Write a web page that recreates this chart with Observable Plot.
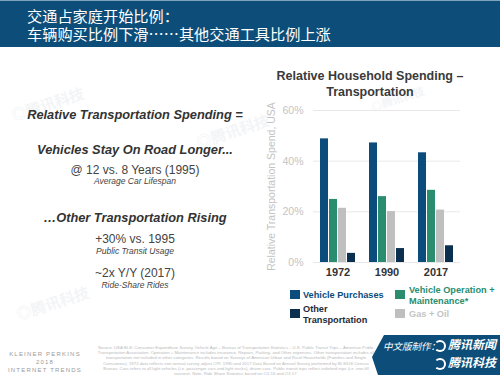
<!DOCTYPE html>
<html><head><meta charset="utf-8">
<script src="https://cdn.jsdelivr.net/npm/d3@7"></script>
<script src="https://cdn.jsdelivr.net/npm/@observablehq/plot@0.6"></script>
<style>
html,body{margin:0;padding:0;background:#fff;}
#page{position:relative;width:500px;height:375px;overflow:hidden;font-family:"Liberation Sans",Arial,Helvetica,sans-serif;}
#header{position:absolute;left:0;top:0;width:500px;height:47px;background:#0c4e79;border-top:1px solid #7fa3bd;box-sizing:border-box;}
#header div{position:absolute;left:27px;top:5px;color:#fff;font-family:"Noto Sans CJK SC",sans-serif;font-size:15.2px;line-height:18px;white-space:nowrap;}
.abs{position:absolute;white-space:nowrap;}
.left{left:0;width:270px;text-align:center;color:#333;}
.bi{font-weight:bold;font-style:italic;font-size:12.8px;}
.n{font-size:12px;color:#444;}
.sm{font-size:8.5px;font-style:italic;color:#444;}
#ctitle{left:270px;width:200px;top:68px;text-align:center;font-weight:bold;font-size:12.5px;line-height:16px;color:#3a3a3a;}
#chart{position:absolute;left:262px;top:100px;}
.leg{position:absolute;font-weight:bold;font-size:9.2px;line-height:10.5px;}
.sw{position:absolute;width:10px;height:9px;}
#kp{left:5px;top:350px;width:80px;text-align:center;color:#9a9a9a;font-size:6px;line-height:8px;letter-spacing:1.2px;}
#src{left:96px;top:345px;width:280px;color:#b9b9b9;font-size:4.3px;line-height:5.2px;white-space:normal;text-align:center;}
#badge{position:absolute;left:372px;top:335px;width:128px;height:40px;background:#0c4e79;clip-path:polygon(12px 0,100% 0,100% 100%,6px 100%,0 55%);}
.bt{position:absolute;color:#fff;font-family:"Noto Sans CJK SC",sans-serif;font-style:italic;white-space:nowrap;line-height:14px;}
.logo{position:absolute;width:8px;height:8px;border:2px solid #fff;border-radius:50%;border-left-color:transparent;}
.wm{position:absolute;color:#e3e6ea;opacity:.4;font-family:"Noto Sans CJK SC",sans-serif;font-weight:bold;font-size:15px;transform:rotate(-18deg);}
</style></head>
<body><div id="page">
<div id="header"><div>交通占家庭开始比例：<br>车辆购买比例下滑……其他交通工具比例上涨</div></div>

<div class="wm" style="left:10px;top:93px">◎腾讯科技</div>
<div class="wm" style="left:195px;top:120px">◎腾讯科技</div>
<div class="wm" style="left:15px;top:292px">◎腾讯科技</div>
<div class="wm" style="left:370px;top:90px;font-size:11px">◎腾讯科技</div>

<div class="abs left bi" style="top:107px">Relative Transportation Spending =</div>
<div class="abs left bi" style="top:142px">Vehicles Stay On Road Longer...</div>
<div class="abs left n" style="top:163px">@ 12 vs. 8 Years (1995)</div>
<div class="abs left sm" style="top:176px">Average Car Lifespan</div>
<div class="abs left bi" style="top:210px">…Other Transportation Rising</div>
<div class="abs left n" style="top:232px">+30% vs. 1995</div>
<div class="abs left sm" style="top:246px">Public Transit Usage</div>
<div class="abs left n" style="top:266px">~2x Y/Y (2017)</div>
<div class="abs left sm" style="top:280px">Ride-Share Rides</div>

<div id="ctitle" class="abs">Relative Household Spending –<br>Transportation</div>
<div id="chart"></div>
<div id="legend"></div>

<div id="kp" class="abs">KLEINER PERKINS<br>2018<br>INTERNET TRENDS</div>
<div id="src" class="abs">Source: USA BLS: Consumer Expenditure Survey, Vehicle Age – Bureau of Transportation Statistics – U.S. Public Transit Trips – American Public Transportation Association. Operation + Maintenance includes insurance, Repairs, Parking, and Other expenses. Other transportation includes all transportation not included in other categories. Results based on Surveys of American Urban and Rural Households (Families and Single Consumers). 1972 data reflects non annual survey adjust CPI. 1990 and 2017 Data Based on Annual Survey performed by BLS/US Census Bureau. Cars refers to all light vehicles (i.e. passenger cars and light trucks), driven cars. Public transit trips reflect unlinked trips (i.e. one-fill journey). Note: Ride Share Statistics based on Q1:16 and Q1:17.</div>
<div id="badge"></div>
<div class="bt" style="left:383px;top:339px;font-size:9.5px">中文版制作：</div>
<div class="logo" style="left:434px;top:340px"></div>
<div class="bt" style="left:448px;top:337px;font-size:12px;font-weight:bold">腾讯新闻</div>
<div class="logo" style="left:434px;top:358px"></div>
<div class="bt" style="left:448px;top:355px;font-size:12px;font-weight:bold">腾讯科技</div>
</div>
<script>
const years = ["1972", "1990", "2017"];
const series = ["Vehicle Purchases", "Vehicle Operation + Maintenance*", "Gas + Oil", "Other Transportation"];
const vehiclePurchases = [48.8, 47.2, 43.3];
const vehicleOperation = [24.9, 26.0, 28.5];
const gasOil = [21.4, 20.1, 20.7];
const otherTransportation = [3.6, 5.5, 6.6];
const seriesColors = ["#0b4c7c", "#2a8d70", "#bfbfbf", "#0b2f4e"];
const yTicks = [0, 20, 40, 60];
const yLabel = "Relative Transportation Spend, USA";

const valuesBySeries = [vehiclePurchases, vehicleOperation, gasOil, otherTransportation];
const rows = [];
years.forEach((y, i) => series.forEach((s, j) => rows.push({year: y, series: s, value: valuesBySeries[j][i]})));

const chart = Plot.plot({
  width: 220, height: 185,
  marginLeft: 51, marginRight: 22, marginTop: 10, marginBottom: 23,
  style: {fontFamily: "'Liberation Sans', Arial, sans-serif", background: "transparent"},
  fx: {domain: years, padding: 0, label: null, axis: null},
  x: {domain: series, paddingInner: 0.1, paddingOuter: 0.63, axis: null},
  y: {domain: [0, 60]},
  color: {domain: series, range: seriesColors},
  marks: [
    Plot.gridY(yTicks, {stroke: "#e8e8e8", strokeOpacity: 1, strokeWidth: 1}),
    Plot.axisY(yTicks, {tickFormat: d => d + "%", tickSize: 0, tickPadding: 10, fill: "#c4c4c4", fontSize: 10.5,
      label: yLabel, labelAnchor: "center", labelArrow: "none", labelOffset: 46}),
    Plot.axisFx({anchor: "bottom", tickSize: 0, tickPadding: 6, fontWeight: "bold", fontSize: 11, fill: "#333", label: null}),
    Plot.barY(rows, {fx: "year", x: "series", y: "value", fill: "series"})
  ]
});
document.getElementById("chart").appendChild(chart);

// legend built from series/colors
const legPos = [[290, 290, 303, 290], [395, 290, 409, 285], [395, 309, 409, 309], [290, 309, 303, 304]];
const legText = ["Vehicle Purchases", "Vehicle Operation +<br>Maintenance*", "Gas + Oil", "Other<br>Transportation"];
const legTextColor = ["#0b4c7c", "#2a8d70", "#c4c4c4", "#1e2a36"];
const leg = document.getElementById("legend");
series.forEach((s, i) => {
  const [sx, sy, tx, ty] = legPos[i];
  const sw = document.createElement("div");
  sw.className = "sw"; sw.style.left = sx + "px"; sw.style.top = sy + "px"; sw.style.background = seriesColors[i];
  leg.appendChild(sw);
  const t = document.createElement("div");
  t.className = "leg"; t.style.left = tx + "px"; t.style.top = ty + "px"; t.style.color = legTextColor[i];
  t.style.whiteSpace = "nowrap";
  t.innerHTML = legText[i];
  leg.appendChild(t);
});
document.getElementById("page").appendChild(leg);
</script>
</body></html>
